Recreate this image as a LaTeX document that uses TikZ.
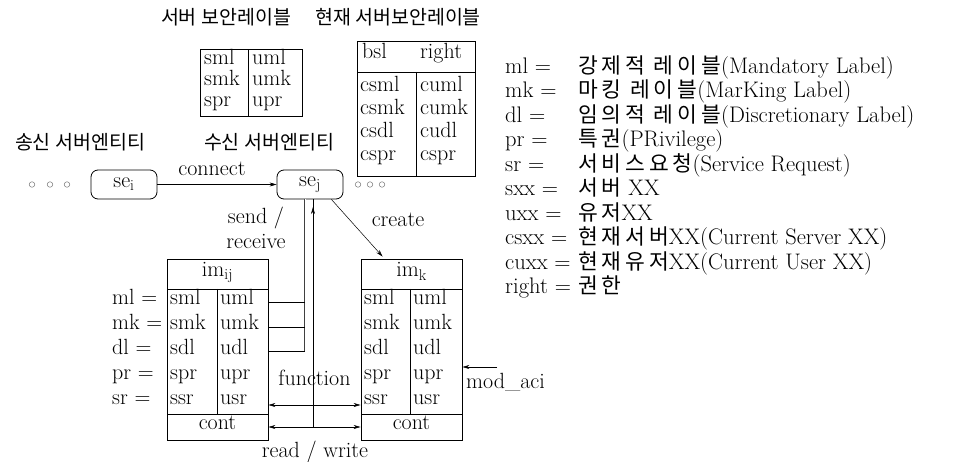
\documentclass[tikz,border=0pt]{standalone}
\usepackage{fontspec}
\newfontfamily\kr{Noto Sans CJK KR}
\newfontfamily\krl{Noto Sans CJK KR}[LetterSpace=18]
\usetikzlibrary{arrows.meta,calc}
\begin{document}
\begin{tikzpicture}[x=1pt,y=-1pt,
  txt/.style={inner sep=0pt, font=\fontsize{22}{25}\selectfont, text height=0.72em, text depth=0.22em},
  lab/.style={inner sep=0pt, font=\fontsize{22}{25}\selectfont},
  leg/.style={inner sep=0pt, font=\fontsize{22.5}{25}\selectfont, text height=0.7em, text depth=0.2em},
  kor/.style={inner sep=0pt, font=\kr\fontsize{19.5}{22}\selectfont},
  box/.style={draw, line width=0.8pt, inner sep=0pt},
  ln/.style={line width=0.5pt},
  dbl/.style={draw=black!75, line width=0.4pt, double=white, double distance=0.9pt},
  arr/.style={-{Stealth[length=7pt,width=4pt]}, line width=0.5pt},
  arrb/.style={{Stealth[length=7pt,width=4pt]}-{Stealth[length=7pt,width=4pt]}, line width=0.5pt},
  ring/.style={circle, draw=black!55, line width=0.5pt, minimum size=5.5pt, inner sep=0pt},
]
\useasboundingbox (0,0) rectangle (964,462);

% titles
\node[kor] (t1) at (226,17) {서버 보안레이블};
\node[kor] (t2) at (398,17) {현재 서버보안레이블};

% table 1
\node[box, minimum width=102pt, minimum height=67pt] (tA) at (251,83) {};
\draw[line width=0.8pt] (248,49.5) -- (248,116.5);
\node[txt, anchor=west] (a1) at (204,62) {sml};
\node[txt, anchor=west] (a2) at (204,83) {smk};
\node[txt, anchor=west] (a3) at (204,104) {spr};
\node[txt, anchor=west] (b1) at (252,62) {uml};
\node[txt, anchor=west] (b2) at (252,83) {umk};
\node[txt, anchor=west] (b3) at (252,104) {upr};

% table 2
\node[box, minimum width=118pt, minimum height=135pt] (tB) at (416,108.5) {};
\draw[line width=0.8pt] (357,72) -- (475,72);
\draw[line width=0.8pt] (416,72) -- (416,176);
\node[txt, anchor=west] (bsl) at (362,56) {bsl};
\node[txt, anchor=west] (rgt) at (420,56) {right};
\node[txt, anchor=west] (c1) at (360,89) {csml};
\node[txt, anchor=west] (c2) at (360,112) {csmk};
\node[txt, anchor=west] (c3) at (360,135) {csdl};
\node[txt, anchor=west] (c4) at (360,158) {cspr};
\node[txt, anchor=west] (d1) at (420,89) {cuml};
\node[txt, anchor=west] (d2) at (420,112) {cumk};
\node[txt, anchor=west] (d3) at (420,135) {cudl};
\node[txt, anchor=west] (d4) at (420,158) {cspr};

% entities
\node[kor] (snd) at (80,142) {송신 서버엔티티};
\node[kor] (rcv) at (269,142) {수신 서버엔티티};
\node[ring] (o1) at (32,184.5) {};
\node[ring] (o2) at (50,184.5) {};
\node[ring] (o3) at (67,184.5) {};
\node[box, rounded corners=7pt, minimum width=66pt, minimum height=29pt, font=\fontsize{22}{25}\selectfont] (sei) at (124,184.5) {$\mathrm{se}_{\mathrm{i}}$};
\node[box, rounded corners=7pt, minimum width=66pt, minimum height=29pt, font=\fontsize{22}{25}\selectfont] (sej) at (310,184.5) {$\mathrm{se}_{\mathrm{j}}$};
\node[ring] (o4) at (358,184.5) {};
\node[ring] (o5) at (370,184.5) {};
\node[ring] (o6) at (382,184.5) {};
\draw[arr] (sei.east) -- (sej.west);
\node[lab] (con) at (212,169) {connect};
\node[lab, align=center] (sr) at (256,228) {send /\\receive};
\node[lab] (cre) at (398,220) {create};

% im_ij
\node[box, minimum width=101pt, minimum height=181pt] (imij) at (217.5,349.5) {};
\draw[line width=0.8pt] (167,289) -- (268,289);
\draw[line width=0.8pt] (167,414) -- (268,414);
\draw[line width=0.8pt] (217,289) -- (217,414);
\node[txt] (hij) at (217.5,274) {im$_{\mathrm{ij}}$};
\node[txt, anchor=west] (p1) at (170,302) {sml};
\node[txt, anchor=west] (p2) at (170,327) {smk};
\node[txt, anchor=west] (p3) at (170,352) {sdl};
\node[txt, anchor=west] (p4) at (170,377) {spr};
\node[txt, anchor=west] (p5) at (170,402) {ssr};
\node[txt, anchor=west] (q1) at (220,302) {uml};
\node[txt, anchor=west] (q2) at (220,327) {umk};
\node[txt, anchor=west] (q3) at (220,352) {udl};
\node[txt, anchor=west] (q4) at (220,377) {upr};
\node[txt, anchor=west] (q5) at (220,402) {usr};
\node[txt] (cij) at (217.5,427) {cont};

% labels left
\node[txt, anchor=west] (l1) at (112,302) {ml =};
\node[txt, anchor=west] (l2) at (112,327) {mk =};
\node[txt, anchor=west] (l3) at (112,352) {dl =};
\node[txt, anchor=west] (l4) at (112,377) {pr =};
\node[txt, anchor=west] (l5) at (112,402) {sr =};

% im_k
\node[box, minimum width=101pt, minimum height=181pt] (imk) at (411.5,349.5) {};
\draw[line width=0.8pt] (361,289) -- (462,289);
\draw[line width=0.8pt] (361,414) -- (462,414);
\draw[line width=0.8pt] (410,289) -- (410,414);
\node[txt] (hk) at (411.5,274) {im$_{\mathrm{k}}$};
\node[txt, anchor=west] (r1) at (364,302) {sml};
\node[txt, anchor=west] (r2) at (364,327) {smk};
\node[txt, anchor=west] (r3) at (364,352) {sdl};
\node[txt, anchor=west] (r4) at (364,377) {spr};
\node[txt, anchor=west] (r5) at (364,402) {ssr};
\node[txt, anchor=west] (s1) at (413,302) {uml};
\node[txt, anchor=west] (s2) at (413,327) {umk};
\node[txt, anchor=west] (s3) at (413,352) {udl};
\node[txt, anchor=west] (s4) at (413,377) {upr};
\node[txt, anchor=west] (s5) at (413,402) {usr};
\node[txt] (ck) at (411.5,427) {cont};

% send/receive lines
\coordinate (j1) at (305,302);
\coordinate (j2) at (305,327);
\coordinate (j3) at (305,351);
\draw[dbl] ($(sej.south)+(-5,0)$) -- (j3);
\draw[ln] (q1 -| imij.east) -- (j1);
\draw[ln] (q2 -| imij.east) -- (j2);
\draw[ln] (j3 -| imij.east) -- (j3);
\coordinate (rw) at (313,427);
\draw[ln] (rw) -- (rw |- sej.south);
\draw[arr] (rw) -- (313,207);

% function, read/write
\draw[arrb] (imij.east |- 0,405) -- (imk.west |- 0,405);
\draw[arrb] (cij -| imij.east) -- (ck -| imk.west);
\node[lab] (fn) at (314.5,378) {function};
\node[lab] (rwl) at (315,452) {read / write};

% create
\draw[arr] ($(sej.south east)+(-12,0)$) -- ($(imk.north west)+(22,-2)$);

% mod_aci
\coordinate (ma) at (497,367);
\draw[arr] (ma) -- (ma -| imk.east);
\node[lab, anchor=west] (mod) at (466,382) {mod\_aci};

% legend
\node[leg, anchor=west] (L1) at (505,71) {ml =};
\node[leg, anchor=west] (L2) at (505,95.5) {mk =};
\node[leg, anchor=west] (L3) at (505,120) {dl =};
\node[leg, anchor=west] (L4) at (505,144.5) {pr =};
\node[leg, anchor=west] (L5) at (505,169) {sr =};
\node[leg, anchor=west] (L6) at (505,193.5) {sxx =};
\node[leg, anchor=west] (L7) at (505,218) {uxx =};
\node[leg, anchor=west] (L8) at (505,242.5) {csxx =};
\node[leg, anchor=west] (L9) at (505,267) {cuxx =};
\node[leg, anchor=west] (L10) at (505,291.5) {right =};
\node[leg, anchor=west] (R1) at (578,71) {{\krl\fontsize{21.5}{25}\selectfont 강제적 레이블}(Mandatory Label)};
\node[leg, anchor=west] (R2) at (578,95.5) {{\krl\fontsize{21.5}{25}\selectfont 마킹 레이블}(MarKing Label)};
\node[leg, anchor=west] (R3) at (578,120) {{\krl\fontsize{21.5}{25}\selectfont 임의적 레이블}(Discretionary Label)};
\node[leg, anchor=west] (R4) at (578,144.5) {{\krl\fontsize{21.5}{25}\selectfont 특권}(PRivilege)};
\node[leg, anchor=west] (R5) at (578,169) {{\krl\fontsize{21.5}{25}\selectfont 서비스요청}(Service Request)};
\node[leg, anchor=west] (R6) at (578,193.5) {{\krl\fontsize{21.5}{25}\selectfont 서버} XX};
\node[leg, anchor=west] (R7) at (578,218) {{\krl\fontsize{21.5}{25}\selectfont 유저}XX};
\node[leg, anchor=west] (R8) at (578,242.5) {{\krl\fontsize{21.5}{25}\selectfont 현재서버}XX(Current Server XX)};
\node[leg, anchor=west] (R9) at (578,267) {{\krl\fontsize{21.5}{25}\selectfont 현재유저}XX(Current User XX)};
\node[leg, anchor=west] (R10) at (578,291.5) {{\krl\fontsize{21.5}{25}\selectfont 권한}};
\end{tikzpicture}
\end{document}
